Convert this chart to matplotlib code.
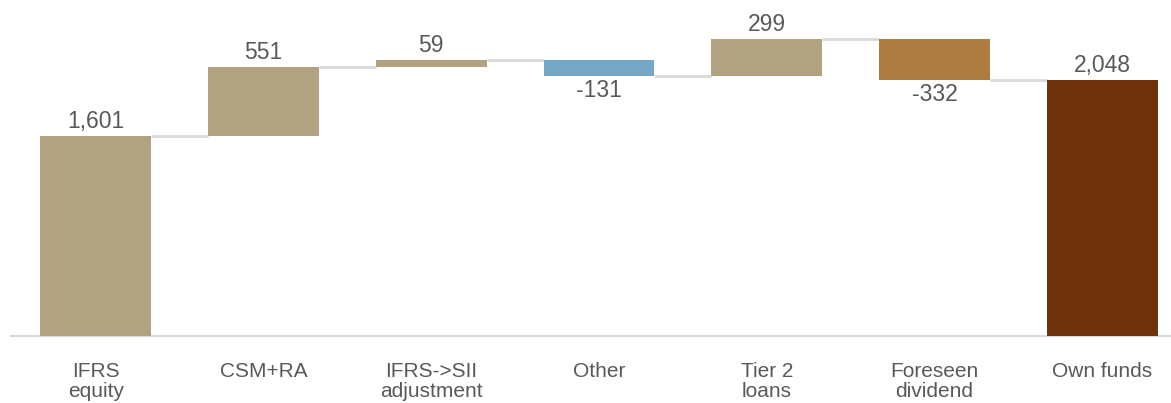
import numpy as np
import matplotlib.pyplot as plt

plt.rcParams['font.family'] = ['Liberation Sans', 'DejaVu Sans']

# data
categories = ["IFRS\nequity", "CSM+RA", "IFRS->SII\nadjustment", "Other",
              "Tier 2\nloans", "Foreseen\ndividend", "Own funds"]
values = [1601, 551, 59, -131, 299, -332, 2048]
kinds = ["total", "delta", "delta", "delta", "delta", "delta", "total"]
colors = ["#B1A282", "#B1A282", "#B1A282", "#77A7C6", "#B1A282", "#AE7C40", "#6F330C"]

fig = plt.figure(figsize=(11.71, 4.03), dpi=100)
ax = fig.add_axes([11 / 1171, 67 / 403, 1160 / 1171, 336 / 403])

width = 0.66
x = np.arange(len(values))
bottoms, tops = [], []
running = 0
for v, k in zip(values, kinds):
    if k == "total":
        b, t = 0, v
        running = v
    else:
        b, t = running, running + v
        running += v
    bottoms.append(min(b, t))
    tops.append(max(b, t))

heights = np.array(tops) - np.array(bottoms)
ax.bar(x, heights, bottom=bottoms, width=width, color=colors, zorder=3)

# connectors between bars at the running total
level = 0
for i, (v, k) in enumerate(zip(values, kinds)):
    level = v if k == "total" else level + v
    if i < len(values) - 1:
        ax.plot([i + width / 2, i + 1 - width / 2], [level, level],
                color="#D9D9D9", lw=2, zorder=2, solid_capstyle="butt")

# value labels
for i, v in enumerate(values):
    if v >= 0:
        ax.text(i, tops[i] + 25, f"{v:,}", ha="center", va="bottom",
                fontsize=16.5, color="#595959")
    else:
        ax.text(i, bottoms[i] - 25, f"{v:,}", ha="center", va="top",
                fontsize=16.5, color="#595959")

ax.set_xlim(-0.505, 6.41)
ax.set_ylim(0, 2690)
ax.set_yticks([])
ax.set_xticks(x)
ax.set_xticklabels(categories, fontsize=15, color="#595959", linespacing=1.05)
ax.tick_params(axis="x", length=0, pad=19)
for s in ["top", "right", "left"]:
    ax.spines[s].set_visible(False)
ax.spines["bottom"].set_color("#D9D9D9")
ax.spines["bottom"].set_linewidth(1.5)

fig.savefig("out.png", dpi=100)
